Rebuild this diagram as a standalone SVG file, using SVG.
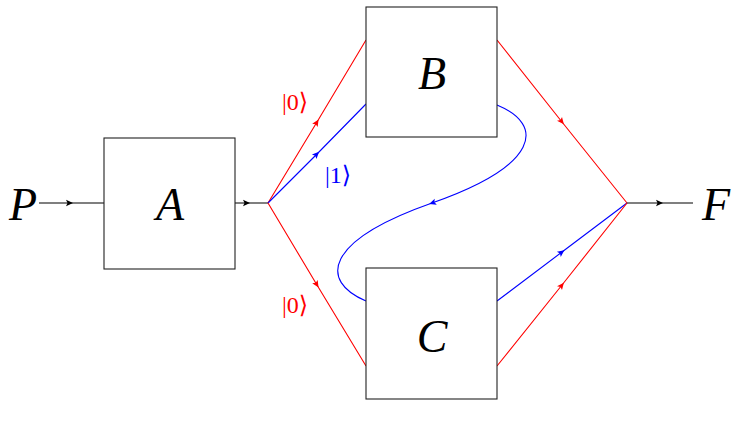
<svg xmlns="http://www.w3.org/2000/svg" width="743" height="423" viewBox="0 0 743 423">
<style>
.box{fill:#fff;stroke:#222;stroke-width:1.1}
.big{font-family:"Liberation Serif","DejaVu Serif",serif;font-style:italic;font-size:46px;text-anchor:middle;fill:#000}
.ket{font-family:"Liberation Serif",serif;font-size:24px;text-anchor:middle}
.ang{font-family:"DejaVu Serif","DejaVu Sans",serif}
.k{stroke:#000;stroke-width:1.1;fill:none;marker-mid:url(#ak)}
.r{stroke:#f00;stroke-width:1.1;fill:none;marker-mid:url(#ar)}
.b{stroke:#00f;stroke-width:1.1;fill:none;marker-mid:url(#ab)}
</style>
<defs>
<marker id="ak" markerUnits="userSpaceOnUse" viewBox="-5 -4 9 8" markerWidth="9" markerHeight="8" refX="0" refY="0" orient="auto"><path d="M-4,-3.2 L3,0 L-4,3.2 L-2.5,0 Z" fill="#000"/></marker>
<marker id="ar" markerUnits="userSpaceOnUse" viewBox="-5 -4 9 8" markerWidth="9" markerHeight="8" refX="0" refY="0" orient="auto"><path d="M-4,-3.2 L3,0 L-4,3.2 L-2.5,0 Z" fill="#f00"/></marker>
<marker id="ab" markerUnits="userSpaceOnUse" viewBox="-5 -4 9 8" markerWidth="9" markerHeight="8" refX="0" refY="0" orient="auto"><path d="M-4,-3.2 L3,0 L-4,3.2 L-2.5,0 Z" fill="#00f"/></marker>
</defs>
<g id="connectors">
<path class="k" d="M39,203 L70,203 L104,203"/>
<path class="k" d="M235,203 L247,203 L268,203"/>
<path class="r" d="M268,203 L317,122 L366,40"/>
<path class="b" d="M268,203 L317,154 L366,104"/>
<path class="r" d="M268,203 L317,285 L366,366"/>
<path class="b" d="M497,105 C545,125 540,165 432,203 C324,241 319,281 366,301"/>
<path class="r" d="M497,40 L562,122 L627,203"/>
<path class="b" d="M497,301 L562,252 L627,203"/>
<path class="r" d="M497,366 L562,285 L627,203"/>
<path class="k" d="M627,203 L660,203 L693,203"/>
</g>
<g id="labels">
<text class="ket" x="295" y="110" fill="#f00">|0<tspan class="ang">⟩</tspan></text>
<text class="ket" x="338" y="183" fill="#00f">|1<tspan class="ang">⟩</tspan></text>
<text class="ket" x="295" y="313" fill="#f00">|0<tspan class="ang">⟩</tspan></text>
</g>
<g id="P"><text class="big" x="23" y="220">P</text></g>
<g id="A"><rect class="box" x="104" y="138" width="131" height="131"/><text class="big" x="170" y="220">A</text></g>
<g id="B"><rect class="box" x="366" y="7" width="131" height="130"/><text class="big" x="432" y="89">B</text></g>
<g id="C"><rect class="box" x="366" y="268" width="131" height="131"/><text class="big" x="432" y="352">C</text></g>
<g id="F"><text class="big" x="716" y="220">F</text></g>
</svg>
